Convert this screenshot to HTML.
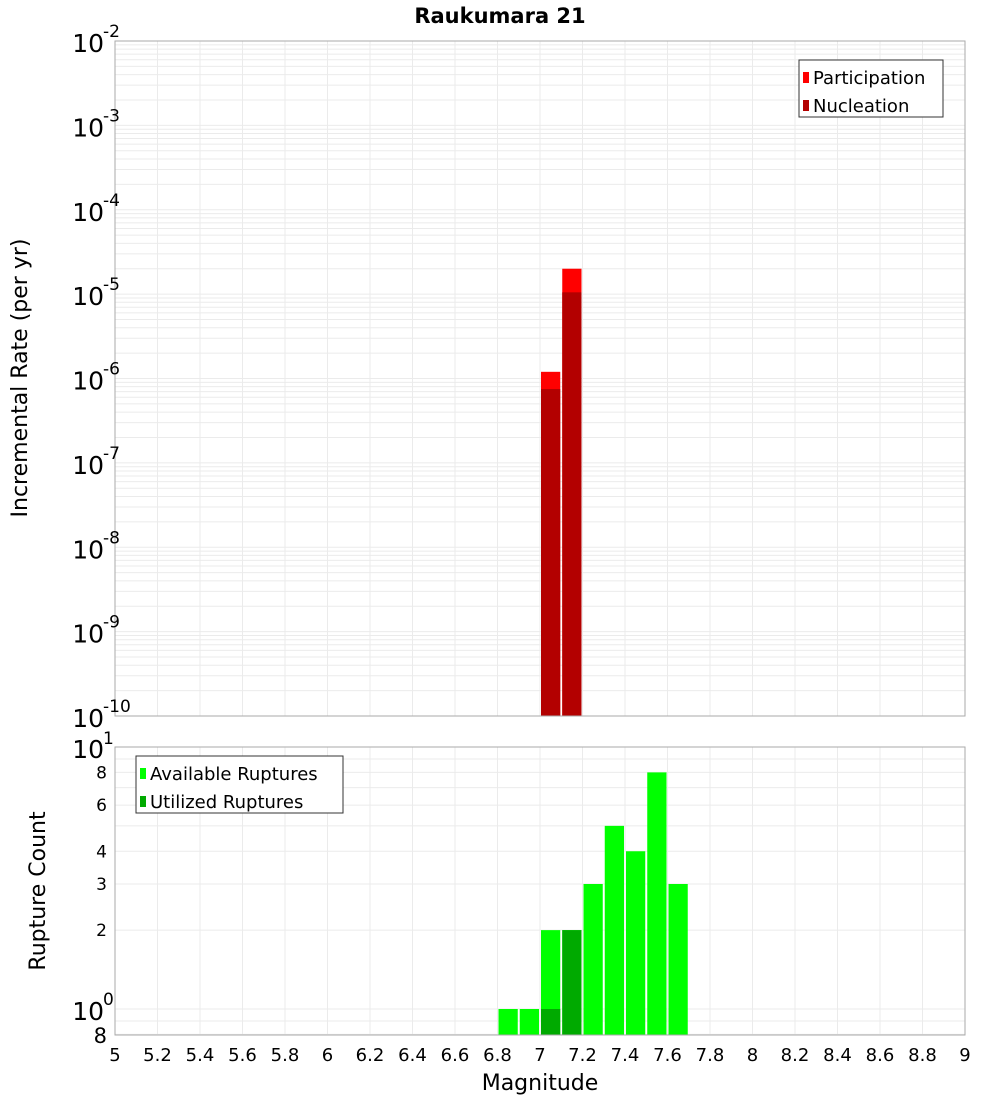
<!DOCTYPE html>
<html><head><meta charset="utf-8"><style>
body{margin:0;background:#fff;}
svg text{font-family:"DejaVu Sans","Liberation Sans",sans-serif;}
</style></head><body>
<svg id="c" width="1000" height="1100" xmlns="http://www.w3.org/2000/svg">
<text x="500" y="23" text-anchor="middle" font-size="21" font-weight="bold">Raukumara 21</text>
<g id="topPlot"></g>
<g id="botPlot"></g>
<text transform="translate(27,378) rotate(-90)" text-anchor="middle" font-size="22">Incremental Rate (per yr)</text>
<text transform="translate(45,891) rotate(-90)" text-anchor="middle" font-size="22">Rupture Count</text>
<text x="540" y="1090" text-anchor="middle" font-size="22">Magnitude</text>
</svg>
<script>
const binCenters=[6.85,6.95,7.05,7.15,7.25,7.35,7.45,7.55,7.65];
const participation=[0,0,1.2e-6,2.0e-5,0,0,0,0,0];
const nucleation=[0,0,7.5e-7,1.05e-5,0,0,0,0,0];
const available=[1,1,2,2,3,5,4,8,3];
const utilized=[0,0,1,2,0,0,0,0,0];
const xTicks=[5,5.2,5.4,5.6,5.8,6,6.2,6.4,6.6,6.8,7,7.2,7.4,7.6,7.8,8,8.2,8.4,8.6,8.8,9];
const topExps=[-2,-3,-4,-5,-6,-7,-8,-9,-10];
const botTicks=[8,6,4,3,2];

const NS="http://www.w3.org/2000/svg";
const L=115,R=965;
const X=m=>L+(m-5)/4*(R-L);
const T0=41,T1=716; const YT=v=>T0+(-2-Math.log10(v))/8*(T1-T0);
const B0=747,B1=1035; const YB=v=>1009-Math.log10(v)*262;
function el(p,tag,a,txt){const e=document.createElementNS(NS,tag);for(const k in a)e.setAttribute(k,a[k]);if(txt!==undefined)e.textContent=txt;p.appendChild(e);return e;}
const gTop=document.getElementById('topPlot'),gBot=document.getElementById('botPlot');
for(let e=-10;e<-2;e++)for(let k=1;k<10;k++){const y=YT(k*Math.pow(10,e));const g=el(gTop,'line',{x1:L,x2:R,y1:y,y2:y,stroke:'#ebebeb','stroke-width':1});}
[0.8,0.9,1,2,3,4,5,6,7,8,9,10].forEach(v=>{const y=YB(v);const g=el(gBot,'line',{x1:L,x2:R,y1:y,y2:y,stroke:'#ebebeb','stroke-width':1});});
xTicks.forEach(m=>{const x=X(m);
 const g1=el(gTop,'line',{x1:x,x2:x,y1:T0,y2:T1,stroke:'#ebebeb'});
 const g2=el(gBot,'line',{x1:x,x2:x,y1:B0,y2:B1,stroke:'#ebebeb'});
 const t=el(gBot,'text',{x:x,y:1061,'text-anchor':'middle','font-size':18},String(m));});
const bw=X(5.1)-X(5);
binCenters.forEach((c,i)=>{
 if(participation[i]>0){const y=YT(participation[i]);const r=el(gTop,'rect',{x:X(c)-bw/2+1,y:y,width:bw-2,height:T1-y,fill:'#ff0000'});}
 if(nucleation[i]>0){const y=YT(nucleation[i]);const r=el(gTop,'rect',{x:X(c)-bw/2+1,y:y,width:bw-2,height:T1-y,fill:'#b30000'});}
 if(available[i]>0){const y=YB(available[i]);const r=el(gBot,'rect',{x:X(c)-bw/2+1,y:y,width:bw-2,height:B1-y,fill:'#00ff00'});}
 if(utilized[i]>0){const y=YB(utilized[i]);const r=el(gBot,'rect',{x:X(c)-bw/2+1,y:y,width:bw-2,height:B1-y,fill:'#00aa00'});}
});
const f1=el(gTop,'rect',{x:L,y:T0,width:R-L,height:T1-T0,fill:'none',stroke:'#aaaaaa'});


const f2=el(gBot,'rect',{x:L,y:B0,width:R-L,height:B1-B0,fill:'none',stroke:'#aaaaaa'});


topExps.forEach(e=>{const y=YT(Math.pow(10,e));
 const t=el(gTop,'text',{x:104,y:y+11,'text-anchor':'end','font-size':25},'10');
 const s=el(gTop,'text',{x:103,y:y-4,'font-size':17},String(e));});
let t=el(gBot,'text',{x:104,y:758,'text-anchor':'end','font-size':25},'10');
t=el(gBot,'text',{x:103,y:744,'font-size':17},'1');
t=el(gBot,'text',{x:104,y:1020,'text-anchor':'end','font-size':25},'10');
t=el(gBot,'text',{x:103,y:1005,'font-size':17},'0');
t=el(gBot,'text',{x:107,y:1043,'text-anchor':'end','font-size':21},'8');
botTicks.forEach(v=>{const y=YB(v);const t=el(gBot,'text',{x:107,y:y+6,'text-anchor':'end','font-size':17},String(v));});
function legend(p,x,y,w,items){const g=el(p,'g',{});
 el(g,'rect',{x:x,y:y,width:w,height:57,fill:'#fff',stroke:'#333'});
 items.forEach((it,i)=>{const yy=y+18+i*28;const s=el(g,'rect',{x:x+4,y:yy-6,width:6,height:11,fill:it[1]});
 const tt=el(g,'text',{x:x+14,y:yy+6,'font-size':18},it[0]);});}
legend(gTop,799,60,144,[['Participation','#ff0000'],['Nucleation','#b30000']]);
legend(gBot,136,756,207,[['Available Ruptures','#00ff00'],['Utilized Ruptures','#00aa00']]);
</script>
</body></html>
